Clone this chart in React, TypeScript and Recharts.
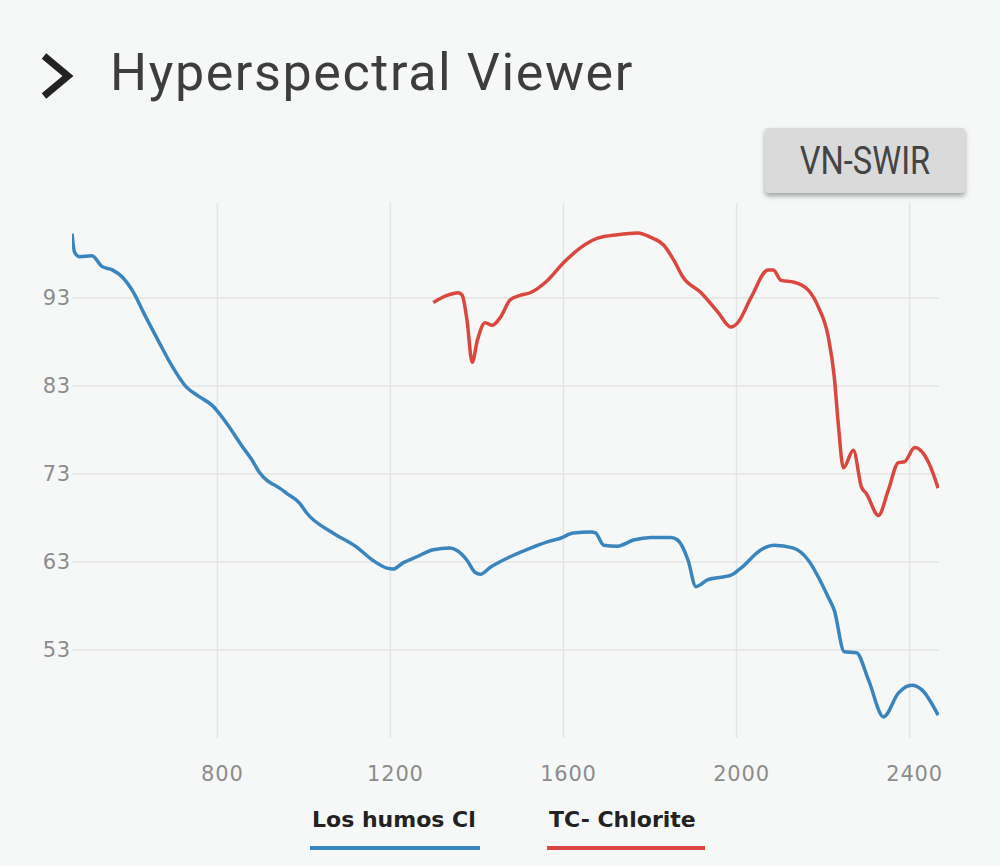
import { LineChart, Line, XAxis, YAxis, CartesianGrid } from "recharts";

// Los humos Cl spectrum (wavelength nm -> reflectance %)
const humosWavelengths = [
  464, 470, 482, 510, 533, 557, 580, 603, 635, 666, 696, 728, 758, 788, 821,
  858, 880, 897, 914, 930, 944, 960, 990, 1006, 1067, 1122, 1159, 1192, 1206,
  1229, 1261, 1299, 1338, 1354, 1377, 1396, 1408, 1431, 1477, 1530, 1570, 1593,
  1623, 1663, 1674, 1693, 1725, 1762, 1802, 1848, 1864, 1888, 1906, 1934, 1987,
  2010, 2057, 2087, 2130, 2166, 2189, 2212, 2226, 2249, 2277, 2305, 2340, 2374,
  2405, 2428, 2466,
];
const humosReflectance = [
  100.3, 98.2, 97.7, 97.8, 96.6, 96.2, 95.4, 93.9, 90.8, 87.9, 85.2, 82.9, 81.8,
  80.8, 78.8, 76.1, 74.6, 73.2, 72.3, 71.8, 71.4, 70.8, 69.7, 68.6, 66.3, 64.7,
  63.2, 62.3, 62.2, 62.9, 63.6, 64.4, 64.6, 64.3, 63.2, 61.8, 61.6, 62.4, 63.6,
  64.7, 65.4, 65.7, 66.3, 66.4, 66.3, 64.9, 64.8, 65.5, 65.8, 65.8, 65.5, 63.2,
  60.2, 61.0, 61.5, 62.3, 64.4, 64.9, 64.6, 63.2, 61.3, 59.0, 57.5, 52.8, 52.7,
  49.6, 45.4, 48.1, 49.0, 48.5, 45.6,
];

// TC- Chlorite library spectrum
const chloriteWavelengths = [
  1299, 1331, 1357, 1366, 1377, 1389, 1401, 1419, 1435, 1454, 1477, 1500, 1523,
  1563, 1600, 1639, 1679, 1725, 1772, 1802, 1832, 1855, 1876, 1918, 1957, 1987,
  2003, 2034, 2073, 2085, 2103, 2133, 2166, 2189, 2212, 2226, 2235, 2247, 2270,
  2289, 2300, 2328, 2351, 2374, 2388, 2412, 2444, 2466,
];
const chloriteReflectance = [
  92.5, 93.3, 93.6, 93.3, 90.5, 85.7, 88.2, 90.2, 89.9, 90.8, 92.8, 93.3, 93.6,
  95.0, 97.0, 98.7, 99.8, 100.2, 100.4, 99.9, 99.0, 97.3, 95.4, 93.6, 91.4, 89.7,
  90.2, 93.1, 96.2, 96.2, 95.0, 94.8, 93.9, 92.0, 88.6, 84.0, 78.8, 73.7, 75.7,
  71.5, 70.8, 68.3, 71.2, 74.3, 74.4, 76.0, 74.3, 71.4,
];

const xTicks = [800, 1200, 1600, 2000, 2400];
const yTicks = [53, 63, 73, 83, 93];
const xDomain = [464, 2468];
const yDomain = [43, 103.8];
const seriesNames = ["Los humos Cl", "TC- Chlorite"];

const BLUE = "#3a85bd";
const RED = "#d9473f";

const toPoints = (xs: number[], ys: number[]) =>
  xs.map((wl, i) => ({ wl, value: ys[i] }));

const humosData = toPoints(humosWavelengths, humosReflectance);
const chloriteData = toPoints(chloriteWavelengths, chloriteReflectance);

const tickStyle = {
  fill: "#8c8c8c",
  fontSize: 21,
  fontFamily: "DejaVu Sans",
  letterSpacing: 0.8,
};

// grid only at the tick values (no lines on the plot border)
const gridX = ({ offset }: any) =>
  xTicks.map(
    (t) =>
      offset.left +
      ((t - xDomain[0]) / (xDomain[1] - xDomain[0])) * offset.width
  );
const gridY = ({ offset }: any) =>
  yTicks.map(
    (t) =>
      offset.top +
      (1 - (t - yDomain[0]) / (yDomain[1] - yDomain[0])) * offset.height
  );

export default function App() {
  return (
    <div
      style={{
        position: "absolute",
        left: 0,
        top: 0,
        width: 1000,
        height: 866,
        background: "#f6f7f7",
        overflow: "hidden",
      }}
    >
      <svg
        width={1000}
        height={120}
        style={{ position: "absolute", left: 0, top: 0 }}
      >
        <polyline
          points="44,56 68,76 44,96"
          fill="none"
          stroke="#222"
          strokeWidth={7}
        />
        <text
          x={110}
          y={90}
          fontFamily="Roboto"
          fontSize={52}
          letterSpacing={1.6}
          fill="#3d3d3d"
        >
          Hyperspectral Viewer
        </text>
      </svg>

      <div
        style={{
          position: "absolute",
          left: 765,
          top: 128,
          width: 200,
          height: 65,
          background: "#dadada",
          borderRadius: 3,
          boxShadow: "0 3px 5px rgba(0,0,0,0.35)",
          display: "flex",
          alignItems: "center",
          justifyContent: "center",
        }}
      >
        <span
          style={{
            display: "inline-block",
            fontFamily: "Roboto",
            fontSize: 38,
            color: "#444",
            transform: "scaleX(0.86)",
          }}
        >
          VN-SWIR
        </span>
      </div>

      <div style={{ position: "absolute", left: 0, top: 0 }}>
        <LineChart
          width={1000}
          height={866}
          margin={{ top: 203, right: 61, bottom: 88, left: 20 }}
        >
          <CartesianGrid
            stroke="#e4e4e4"
            strokeWidth={1.5}
            verticalCoordinatesGenerator={gridX}
            horizontalCoordinatesGenerator={gridY}
          />
          <XAxis
            dataKey="wl"
            type="number"
            domain={xDomain}
            ticks={xTicks}
            allowDataOverflow
            height={40}
            axisLine={false}
            tickLine={false}
            tickSize={0}
            tickMargin={28}
            tick={{ ...tickStyle, dx: 5 }}
          />
          <YAxis
            type="number"
            domain={yDomain}
            ticks={yTicks}
            allowDataOverflow
            width={52}
            axisLine={false}
            tickLine={false}
            tickSize={0}
            tickMargin={1}
            tick={tickStyle}
          />
          <Line
            data={humosData}
            dataKey="value"
            name={seriesNames[0]}
            type="monotone"
            stroke={BLUE}
            strokeWidth={3.5}
            dot={false}
            activeDot={false}
            isAnimationActive={false}
          />
          <Line
            data={chloriteData}
            dataKey="value"
            name={seriesNames[1]}
            type="monotone"
            stroke={RED}
            strokeWidth={3.5}
            dot={false}
            activeDot={false}
            isAnimationActive={false}
          />
        </LineChart>
      </div>

      {/* legend */}
      {[
        { name: seriesNames[0], color: BLUE, left: 310, width: 170 },
        { name: seriesNames[1], color: RED, left: 547, width: 158 },
      ].map((item) => (
        <div
          key={item.name}
          style={{ position: "absolute", left: item.left, top: 809 }}
        >
          <div
            style={{
              fontFamily: "DejaVu Sans",
              fontWeight: 700,
              fontSize: 22,
              lineHeight: "22px",
              color: "#222",
              whiteSpace: "nowrap",
              paddingLeft: 2,
            }}
          >
            {item.name}
          </div>
          <div
            style={{
              marginTop: 15,
              width: item.width,
              height: 4,
              background: item.color,
            }}
          />
        </div>
      ))}
    </div>
  );
}
